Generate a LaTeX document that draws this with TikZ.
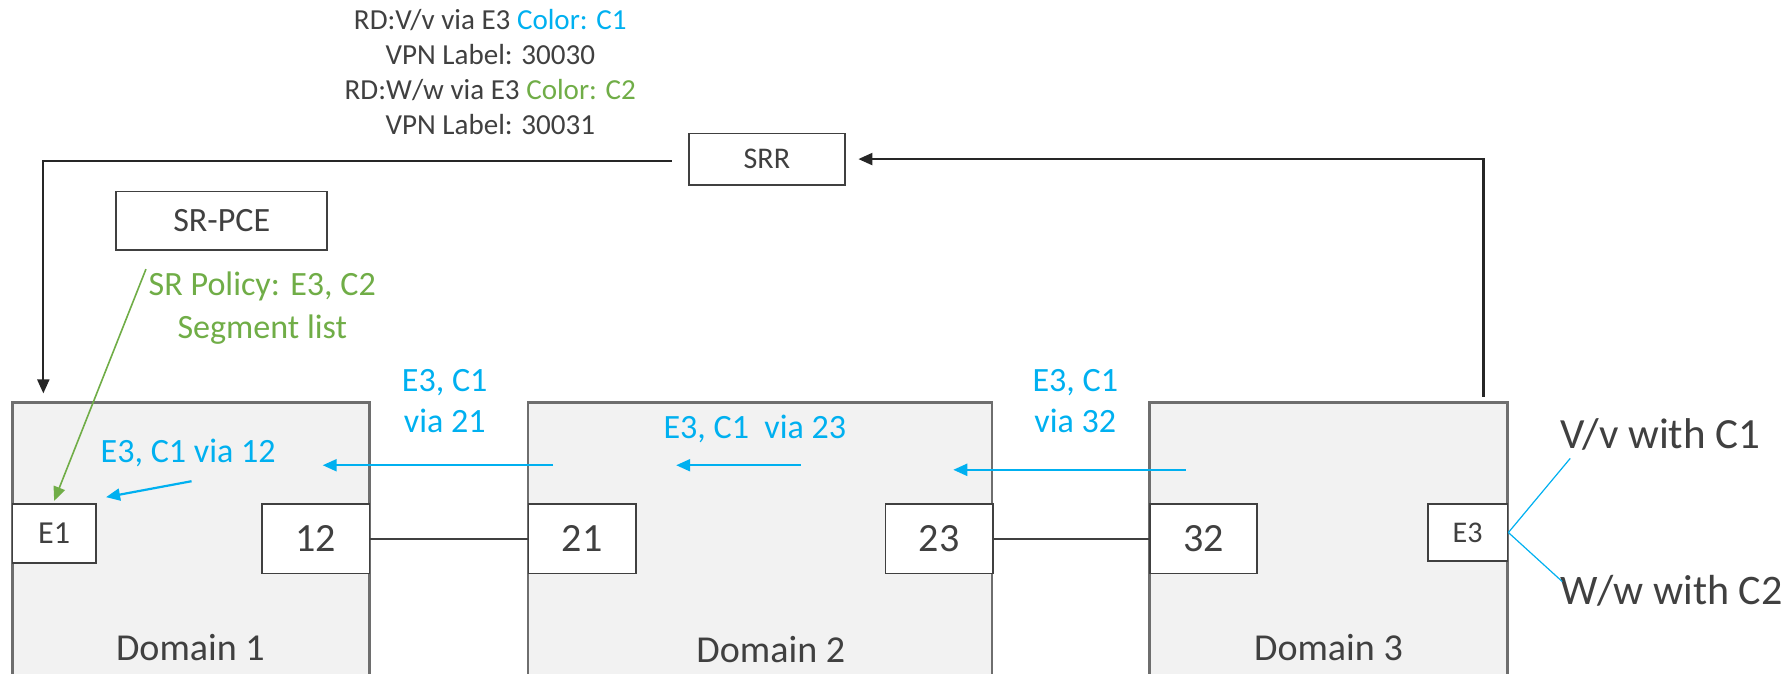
\documentclass[tikz,border=0pt]{standalone}
\usepackage{fontspec}
\setmainfont{Carlito}
\usetikzlibrary{positioning,calc,arrows.meta}
\definecolor{ink}{RGB}{64,64,64}
\definecolor{sky}{RGB}{0,176,240}
\definecolor{leaf}{RGB}{112,173,71}
\definecolor{domfill}{RGB}{242,242,242}
\definecolor{domline}{RGB}{110,110,110}

\begin{document}
\begin{tikzpicture}[x=0.02cm, y=-0.02cm, text=ink,
        domainbox/.style={draw=domline, line width=1.1pt, fill=domfill, inner sep=0pt, minimum height=5.34cm},
        port/.style={draw=black!75, line width=0.9pt, fill=white, inner sep=0pt, minimum width=1.88cm, minimum height=1.22cm, font=\fontsize{20}{24}\selectfont},
        ctrl/.style={draw=black!75, line width=0.9pt, fill=white, inner sep=0pt},
        wire/.style={draw=black!85, line width=1.1pt, -{Triangle[length=7pt,width=6pt]}},
        skyarrow/.style={draw=sky, line width=1.1pt, -{Triangle[length=7pt,width=6pt]}},
        skylbl/.style={text=sky, align=center, font=\fontsize{17}{20.5}\selectfont}]
        \useasboundingbox (0,0) rectangle (1568,591);
        \clip (0,0) rectangle (1568,591);

        \node[domainbox, minimum width=6.26cm] (dom1) at (167.5,486.5) {};
        \node[domainbox, minimum width=8.14cm] (dom2) at (666.5,486.5) {};
        \node[domainbox, minimum width=6.28cm] (dom3) at (1165,486.5) {};
        \node[font=\fontsize{19}{23}\selectfont] (lab1) at (167,568) {Domain 1};
        \node[font=\fontsize{19}{23}\selectfont] (lab2) at (676,570) {Domain 2};
        \node[font=\fontsize{19}{23}\selectfont] (lab3) at (1165,568) {Domain 3};

        \node[ctrl, minimum width=1.46cm, minimum height=1.04cm, font=\fontsize{16}{19}\selectfont] (e1) at (47.5,468) {E1};
        \node[port] (p12) at (277,472.5) {12};
        \node[port] (p21) at (510.5,472.5) {21};
        \node[port] (p23) at (823.5,472.5) {23};
        \node[port] (p32) at (1055.5,472.5) {32};
        \node[ctrl, minimum width=1.40cm, minimum height=1.00cm, font=\fontsize{15}{18}\selectfont] (e3) at (1287,467) {E3};

        \draw[black!75, line width=0.9pt] (p12) -- (p21);
        \draw[black!75, line width=0.9pt] (p23) -- (p32);

        \node[ctrl, minimum width=2.74cm, minimum height=0.90cm, font=\fontsize{15}{18}\selectfont] (srr) at (672.5,139.5) {SRR};
        \node[ctrl, minimum width=3.70cm, minimum height=1.02cm, font=\fontsize{17}{20}\selectfont] (pce) at (194.5,193.5) {SR-PCE};

        \node[align=center, font=\fontsize{14.5}{17.4}\selectfont] (bgp) at (430,63) {RD:V/v via E3 \textcolor{sky}{Color: C1}\\VPN Label: 30030\\RD:W/w via E3 \textcolor{leaf}{Color: C2}\\VPN Label: 30031};

        \coordinate (in1) at (38,345);
        \coordinate (out3) at (1301,348);
        \draw[wire] ($(srr.west)+(-14,2)$) -| (in1);
        \draw[wire] (out3) |- ($(srr.east)+(11,0)$);

        \node[align=center, text=leaf, font=\fontsize{17}{21.6}\selectfont] (policy) at (230,270) {SR Policy: E3, C2\\Segment list};
        \coordinate (pol) at (128,236);
        \draw[draw=leaf, line width=0.8pt, -{Triangle[length=7pt,width=6pt]}] (pol) -- ($(e1.north)+(0,-2)$);

        \node[skylbl] (via12) at (165,397) {E3, C1 via 12};
        \node[skylbl] (via21) at (390,352) {E3, C1\\via 21};
        \node[skylbl] (via23) at (662,376) {E3, C1\ \ via 23};
        \node[skylbl] (via32) at (943,352) {E3, C1\\via 32};

        \coordinate (b1s) at (168,422);
        \coordinate (b1e) at (93,436);
        \coordinate (b2s) at (485,408);
        \coordinate (b2e) at (283,408);
        \coordinate (b3s) at (702,408);
        \coordinate (b3e) at (593,408);
        \coordinate (b4s) at (1040,412);
        \coordinate (b4e) at (836,412);
        \draw[skyarrow] (b1s) -- (b1e);
        \draw[skyarrow] (b2s) -- (b2e);
        \draw[skyarrow] (b3s) -- (b3e);
        \draw[skyarrow] (b4s) -- (b4e);

        \node[anchor=west, font=\fontsize{21.5}{25}\selectfont] (vv) at (1362,381) {V/v with C1};
        \node[anchor=west, font=\fontsize{21}{25}\selectfont] (ww) at (1362,518) {W/w with C2};
        \coordinate (vvend) at (1377,402);
        \coordinate (wwend) at (1370,510);
        \draw[sky, line width=0.6pt] (e3.east) -- (vvend);
        \draw[sky, line width=0.6pt] (e3.east) -- (wwend);
\end{tikzpicture}
\end{document}
